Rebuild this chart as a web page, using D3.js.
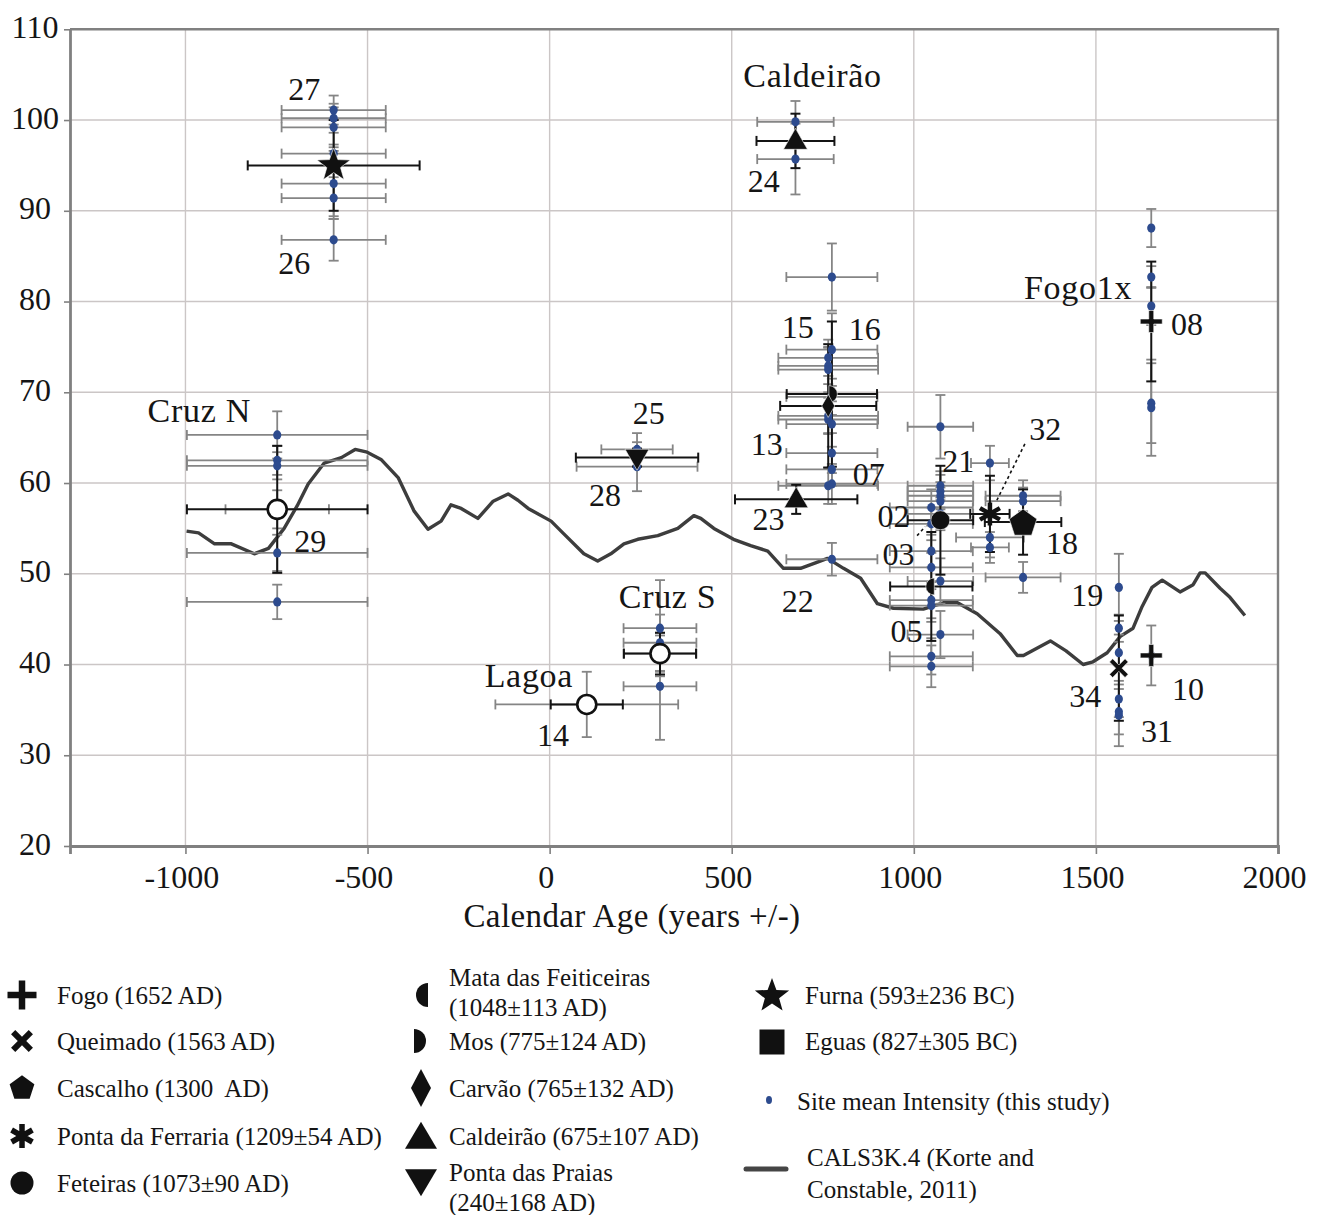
<!DOCTYPE html>
<html>
<head>
<meta charset="utf-8">
<script src="https://cdn.jsdelivr.net/npm/d3@7"></script>
<style>
  body { margin: 0; background: #fff; }
  svg text { font-family: "Liberation Serif", "Times New Roman", serif; fill: #151515; white-space: pre; }
</style>
</head>
<body>
<svg id="chart" width="1330" height="1215"></svg>
<script>
// ---------- axis ticks ----------
const xTickValues = [-1000, -500, 0, 500, 1000, 1500, 2000];
const yTickValues = [20, 30, 40, 50, 60, 70, 80, 90, 100, 110];

// ---------- CALS3K.4 model curve (age AD, intensity µT) ----------
const modelAges = [-997,-964,-920,-874,-811,-772,-729,-693,-663,-619,-572,-534,-501,-463,-416,-372,-334,-298,-271,-243,-197,-155,-114,-87,-59,4,39,94,132,168,204,242,297,352,396,415,451,505,552,599,642,689,730,763,807,854,900,944,1026,1081,1120,1174,1237,1284,1301,1375,1418,1465,1492,1531,1567,1602,1627,1654,1682,1731,1767,1786,1800,1841,1868,1909];
const modelIntensity = [54.7,54.5,53.3,53.3,52.2,52.8,55.0,57.5,59.9,62.2,62.8,63.7,63.4,62.6,60.6,56.9,54.9,55.8,57.6,57.2,56.1,58.0,58.8,58.1,57.2,55.8,54.4,52.2,51.4,52.2,53.3,53.8,54.2,55.0,56.4,56.1,55.0,53.8,53.1,52.5,50.6,50.6,51.2,51.7,50.6,49.5,46.7,46.2,46.1,46.8,46.8,45.6,43.4,41.0,41.0,42.6,41.5,40.0,40.3,41.3,43.1,44.0,46.4,48.5,49.3,48.0,48.8,50.1,50.1,48.4,47.4,45.4];

// ---------- dated flows (flow mean intensity with age and intensity errors) ----------
const flowNames = ["Furna","Caldeirão","Caldeirão","Ponta das Praias","Mos","Carvão","Mata das Feiticeiras","Feteiras","Ponta da Ferraria","Cascalho","Fogo","Fogo","Queimado","Cruz N","Cruz S","Lagoa"];
const flowAges = [-593, 675, 677, 240, 775, 765, 1048, 1073, 1209, 1300, 1652, 1652, 1563, -748, 303, 102];
const flowMeans = [95.0, 97.7, 58.2, 62.8, 69.8, 68.5, 48.6, 55.9, 56.6, 55.7, 77.8, 41.0, 39.6, 57.1, 41.2, 35.6];
const flowAgeErr = [236, 107, 168, 168, 124, 132, 113, 90, 54, 105, 0, 0, 0, 248, 99, 99];
const flowMeanErr = [5.0, 3.0, 1.6, 1.0, 8.0, 6.8, 6.0, 6.0, 4.2, 3.6, 6.6, 0, 5.8, 7.0, 2.3, 0];

// ---------- site mean intensities (this study) ----------
const siteAges = [
  -593,-593,-593,-593,-593,-593,-593,            // Furna
  675,675,                                        // Caldeirão
  -748,-748,-748,-748,-748,-748,                  // Cruz N
  240,240,                                        // Ponta das Praias
  102,                                            // Lagoa
  303,303,303,303,                                // Cruz S
  775,775,765,765,765,775,765,765,775,775,775,775,765,775, // Mos / Carvão
  1048,1048,1048,1048,1048,1048,1048,1048,        // Mata das Feiticeiras
  1073,1073,1073,1073,1073,1073,1073,1073,        // Feteiras
  1209,1209,1209,                                 // Ponta da Ferraria
  1300,1300,1300,                                 // Cascalho
  1652,1652,1652,1652,1652,1652,                  // Fogo
  1563,1563,1563,1563,1563,1563                   // Queimado
];
const siteMeans = [
  101.1,100.2,99.2,96.3,93.0,91.4,86.8,
  99.8,95.7,
  65.3,62.5,61.9,57.1,52.3,46.9,
  63.7,61.8,
  35.6,
  44.0,42.4,41.2,37.6,
  82.7,74.7,73.8,72.9,72.5,69.5,67.4,67.0,66.5,63.3,61.5,59.9,59.7,51.6,
  57.3,55.5,52.5,50.7,47.1,46.5,40.9,39.8,
  66.2,59.7,59.1,58.6,58.0,56.6,49.2,43.3,
  62.2,54.0,52.9,
  58.6,58.0,49.6,
  88.1,82.7,79.5,68.8,68.3,41.0,
  48.5,44.0,41.3,36.2,34.8,34.4
];
const siteAgeErr = [
  143,143,143,143,143,143,143,
  105,105,
  248,248,248,142,248,248,
  98,166,
  251,
  100,100,100,100,
  125,125,137,137,137,125,137,137,125,125,125,125,137,125,
  114,114,114,114,114,114,114,114,
  90,90,90,90,90,90,90,90,
  52,93,52,
  103,103,103,
  0,0,0,0,0,0,
  0,0,0,0,0,0
];
const siteMeanErr = [
  1.6,1.6,2.2,1.0,3.6,2.3,2.3,
  2.3,3.9,
  2.6,1.6,1.5,2.1,2.0,1.9,
  1.8,2.7,
  3.6,
  5.3,3.1,2.0,5.9,
  3.7,4.0,2.0,2.0,2.5,2.0,2.0,1.5,2.5,2.2,1.8,2.2,2.0,1.8,
  2.0,1.8,1.8,1.6,2.0,1.8,2.0,2.3,
  3.5,1.6,1.8,1.5,1.5,1.8,2.5,2.6,
  1.9,2.2,1.7,
  1.7,1.5,1.7,
  2.1,1.2,2.1,4.4,5.3,3.3,
  3.7,1.5,2.0,2.0,2.5,3.4
];

// ---------- sample labels (anchored in age / intensity space) ----------
const labelTexts = ["27","26","Caldeirão","24","Cruz N","29","25","28","Cruz S","Lagoa","14","15","16","13","07","23","22","02","03","05","21","32","18","19","Fogo1x","08","34","10","31"];
const labelAges  = [-674,-701,722,588,-962,-657,272,152,324,-57,9,681,865,596,876,601,681,944,958,980,1122,1361,1407,1476,1451,1750,1471,1753,1668];
const labelMeans = [103.4,84.3,104.9,93.3,67.9,53.6,67.7,58.7,47.4,38.7,32.2,77.2,77.0,64.3,61.0,56.0,47.0,56.4,52.2,43.7,62.4,65.9,53.4,47.7,81.5,77.5,36.5,37.3,32.7];

// dotted leader lines: [age, intensity] start and end
const leaderStarts = [[1228, 58.1], [1009, 54.2]];
const leaderEnds   = [[1306, 64.4], [1031, 55.2]];

// ---------- scales ----------
const x = d3.scaleLinear().domain([-1317, 2000]).range([70, 1278]);
const y = d3.scaleLinear().domain([20, 110]).range([846, 29.3]);

const svg = d3.select("#chart");
svg.append("rect").attr("width", 1330).attr("height", 1215).attr("fill", "#fff");

// ---------- marker shapes ----------
const fmt = v => (+v).toFixed(2);
function polygon(pts) { return "M" + pts.map(p => fmt(p[0]) + "," + fmt(p[1])).join("L") + "Z"; }
function starPath(R, r) {
  const pts = [];
  for (let i = 0; i < 10; i++) {
    const a = -Math.PI / 2 + i * Math.PI / 5, rad = i % 2 ? r : R;
    pts.push([rad * Math.cos(a), rad * Math.sin(a)]);
  }
  return polygon(pts);
}
function pentagonPath(R) {
  const pts = [];
  for (let i = 0; i < 5; i++) {
    const a = -Math.PI / 2 + i * 2 * Math.PI / 5;
    pts.push([R * Math.cos(a), R * Math.sin(a) + R * 0.1]);
  }
  return polygon(pts);
}
function triPath(w, h, down) {
  const s = down ? -1 : 1;
  return polygon([[0, -s * h * 0.6], [w / 2, s * h * 0.4], [-w / 2, s * h * 0.4]]);
}
function diamondPath(w, h) { return polygon([[0, -h / 2], [w / 2, 0], [0, h / 2], [-w / 2, 0]]); }
function squarePath(s) { return polygon([[-s / 2, -s / 2], [s / 2, -s / 2], [s / 2, s / 2], [-s / 2, s / 2]]); }
function circlePath(r) { return `M${r},0A${r},${r} 0 1,1 ${-r},0A${r},${r} 0 1,1 ${r},0Z`; }
function halfPath(r, dir, off) {
  return `M${off},${-r}A${r},${r} 0 0,${dir > 0 ? 1 : 0} ${off},${r}Z`;
}
function plusPts(L, t) {
  const a = L / 2, b = t / 2;
  return [[-b,-a],[b,-a],[b,-b],[a,-b],[a,b],[b,b],[b,a],[-b,a],[-b,b],[-a,b],[-a,-b],[-b,-b]];
}
function plusPath(L, t) { return polygon(plusPts(L, t)); }
function timesPath(L, t) {
  const c = Math.SQRT1_2;
  return polygon(plusPts(L, t).map(([px, py]) => [c * (px - py), c * (px + py)]));
}
function asteriskPath(r) {
  const c = Math.cos(Math.PI / 6) * r, s = Math.sin(Math.PI / 6) * r;
  return `M0,${-r}L0,${r}M${-c},${-s}L${c},${s}M${-c},${s}L${c},${-s}`;
}

const plotMarker = {
  "Furna": { d: starPath(17.5, 7.2) },
  "Caldeirão": { d: triPath(24, 21, false) },
  "Ponta das Praias": { d: triPath(24, 21, true) },
  "Mos": { d: halfPath(8.5, 1, -3) },
  "Carvão": { d: diamondPath(13, 23) },
  "Mata das Feiticeiras": { d: halfPath(8.5, -1, 3) },
  "Feteiras": { d: circlePath(9.5) },
  "Ponta da Ferraria": { d: asteriskPath(11.5), stroke: 4.5 },
  "Cascalho": { d: pentagonPath(14.5) },
  "Fogo": { d: plusPath(22, 5) },
  "Queimado": { d: timesPath(22, 4.5) },
  "Cruz N": { d: circlePath(9.5), open: true },
  "Cruz S": { d: circlePath(9.5), open: true },
  "Lagoa": { d: circlePath(9.5), open: true }
};

// ---------- grid ----------
const grid = svg.append("g").attr("stroke", "#cbc6c6").attr("stroke-width", 1.4);
grid.selectAll(".gx").data(xTickValues).join("line").attr("class", "gx")
  .attr("x1", d => x(d)).attr("x2", d => x(d)).attr("y1", y(20)).attr("y2", y(110));
grid.selectAll(".gy").data(yTickValues).join("line").attr("class", "gy")
  .attr("x1", x.range()[0]).attr("x2", x.range()[1]).attr("y1", d => y(d)).attr("y2", d => y(d));

// frame (top and right edges)
svg.append("path")
  .attr("d", `M${x.range()[0]},${y(110)}H${x.range()[1]}V${y(20)}`)
  .attr("fill", "none").attr("stroke", "#808080").attr("stroke-width", 2.4);

// ---------- axes ----------
const plainNumber = d => String(d);
const xAxis = svg.append("g").attr("transform", `translate(0,${y(20)})`)
  .call(d3.axisBottom(x).tickValues(xTickValues).tickSize(8).tickSizeOuter(8).tickFormat(plainNumber));
const yAxis = svg.append("g").attr("transform", `translate(${x.range()[0]},0)`)
  .call(d3.axisLeft(y).tickValues(yTickValues).tickSize(6).tickSizeOuter(0).tickFormat(plainNumber));
[xAxis, yAxis].forEach(g => {
  g.attr("font-family", null).attr("font-size", null);
  g.select(".domain").attr("stroke", "#808080").attr("stroke-width", 2.8);
  g.selectAll(".tick line").attr("stroke", "#808080").attr("stroke-width", 1.6);
  g.selectAll(".tick text").attr("fill", "#151515").style("font-size", "32px");
});
xAxis.selectAll(".tick text").attr("y", 42).attr("dy", 0).attr("dx", -4);
yAxis.selectAll(".tick text").attr("x", -35).attr("dy", 0).attr("y", 8).attr("text-anchor", "middle");

svg.append("text").attr("x", x(226)).attr("y", 927).attr("text-anchor", "middle")
  .style("font-size", "33px").attr("letter-spacing", 0.4).text("Calendar Age (years +/-)");

// ---------- model curve ----------
const modelData = d3.zip(modelAges, modelIntensity);
svg.append("path").datum(modelData)
  .attr("d", d3.line().x(d => x(d[0])).y(d => y(d[1])))
  .attr("fill", "none").attr("stroke", "#3d3d3d").attr("stroke-width", 3.4)
  .attr("stroke-linejoin", "round");

// ---------- error bars ----------
function drawErrorBars(rows, color, width, cap) {
  const g = svg.append("g").attr("stroke", color).attr("stroke-width", width).attr("fill", "none");
  const hr = rows.filter(d => d.ageErr > 0), vr = rows.filter(d => d.meanErr > 0);
  g.selectAll(".h").data(hr).join("line").attr("class", "h")
    .attr("x1", d => x(d.age - d.ageErr)).attr("x2", d => x(d.age + d.ageErr))
    .attr("y1", d => y(d.mean)).attr("y2", d => y(d.mean));
  g.selectAll(".hc").data(hr.flatMap(d => [d.age - d.ageErr, d.age + d.ageErr].map(a => ({ a, m: d.mean }))))
    .join("line").attr("class", "hc")
    .attr("x1", d => x(d.a)).attr("x2", d => x(d.a))
    .attr("y1", d => y(d.m) - cap / 2).attr("y2", d => y(d.m) + cap / 2);
  g.selectAll(".v").data(vr).join("line").attr("class", "v")
    .attr("x1", d => x(d.age)).attr("x2", d => x(d.age))
    .attr("y1", d => y(d.mean - d.meanErr)).attr("y2", d => y(d.mean + d.meanErr));
  g.selectAll(".vc").data(vr.flatMap(d => [d.mean - d.meanErr, d.mean + d.meanErr].map(m => ({ a: d.age, m }))))
    .join("line").attr("class", "vc")
    .attr("x1", d => x(d.a) - cap / 2).attr("x2", d => x(d.a) + cap / 2)
    .attr("y1", d => y(d.m)).attr("y2", d => y(d.m));
}

const siteRows = siteAges.map((a, i) => ({ age: a, mean: siteMeans[i], ageErr: siteAgeErr[i], meanErr: siteMeanErr[i] }));
const flowRows = flowNames.map((n, i) => ({ name: n, age: flowAges[i], mean: flowMeans[i], ageErr: flowAgeErr[i], meanErr: flowMeanErr[i] }));

drawErrorBars(siteRows, "#858585", 1.8, 10);
drawErrorBars(flowRows, "#141414", 2.0, 10);

// ---------- site mean points ----------
svg.append("g").selectAll("ellipse").data(siteRows).join("ellipse")
  .attr("cx", d => x(d.age)).attr("cy", d => y(d.mean))
  .attr("rx", 4.1).attr("ry", 4.6).attr("fill", "#2d4b8e");

// ---------- flow markers ----------
svg.append("g").selectAll("path").data(flowRows).join("path")
  .attr("transform", d => `translate(${x(d.age)},${y(d.mean)})`)
  .attr("d", d => plotMarker[d.name].d)
  .each(function (d) {
    const m = plotMarker[d.name], s = d3.select(this);
    if (m.stroke) s.attr("fill", "none").attr("stroke", "#111").attr("stroke-width", m.stroke);
    else if (m.open) s.attr("fill", "#fff").attr("stroke", "#111").attr("stroke-width", 2.6);
    else s.attr("fill", "#111").attr("stroke", "#fff").attr("stroke-width", 0.6);
  });

// ---------- leader lines and labels ----------
svg.append("g").selectAll("line").data(d3.zip(leaderStarts, leaderEnds)).join("line")
  .attr("x1", d => x(d[0][0])).attr("y1", d => y(d[0][1]))
  .attr("x2", d => x(d[1][0])).attr("y2", d => y(d[1][1]))
  .attr("stroke", "#111").attr("stroke-width", 1.6).attr("stroke-dasharray", "3,3");

svg.append("g").selectAll("text").data(labelTexts).join("text")
  .attr("x", (d, i) => x(labelAges[i])).attr("y", (d, i) => y(labelMeans[i]) + 11)
  .attr("text-anchor", "middle")
  .style("font-size", d => /^\d+$/.test(d) ? "32px" : "34px")
  .attr("letter-spacing", d => /^\d+$/.test(d) ? 0 : 0.7)
  .text(d => d);

// ---------- legend ----------
const legendItems = [
  { d: plusPath(29, 6.5), sx: 22, sy: 995, tx: 57, lines: ["Fogo (1652 AD)"], ty: 995 },
  { d: timesPath(25, 6), sx: 22, sy: 1041, tx: 57, lines: ["Queimado (1563 AD)"], ty: 1041 },
  { d: pentagonPath(13), sx: 22, sy: 1087, tx: 57, lines: ["Cascalho (1300  AD)"], ty: 1088 },
  { d: asteriskPath(12), stroke: 5.5, sx: 22, sy: 1136, tx: 57, lines: ["Ponta da Ferraria (1209±54 AD)"], ty: 1136 },
  { d: circlePath(11.5), sx: 22, sy: 1183, tx: 57, lines: ["Feteiras (1073±90 AD)"], ty: 1183 },
  { d: halfPath(12, -1, 0), sx: 428, sy: 995, tx: 449, lines: ["Mata das Feiticeiras", "(1048±113 AD)"], ty: 977 },
  { d: halfPath(12, 1, 0), sx: 414, sy: 1041, tx: 449, lines: ["Mos (775±124 AD)"], ty: 1041 },
  { d: diamondPath(20, 38), sx: 421, sy: 1088, tx: 449, lines: ["Carvão (765±132 AD)"], ty: 1088 },
  { d: triPath(32, 27, false), sx: 421, sy: 1138, tx: 449, lines: ["Caldeirão (675±107 AD)"], ty: 1136 },
  { d: triPath(32, 27, true), sx: 421, sy: 1180, tx: 449, lines: ["Ponta das Praias", "(240±168 AD)"], ty: 1172 },
  { d: starPath(18, 7.5), sx: 772, sy: 996, tx: 805, lines: ["Furna (593±236 BC)"], ty: 995 },
  { d: squarePath(25), sx: 772, sy: 1042, tx: 805, lines: ["Eguas (827±305 BC)"], ty: 1041 }
];
const lg = svg.append("g");
lg.selectAll("path").data(legendItems).join("path")
  .attr("transform", d => `translate(${d.sx},${d.sy})`).attr("d", d => d.d)
  .each(function (d) {
    const s = d3.select(this);
    if (d.stroke) s.attr("fill", "none").attr("stroke", "#111").attr("stroke-width", d.stroke);
    else s.attr("fill", "#111");
  });
lg.selectAll("text.item").data(legendItems).join("text").attr("class", "item")
  .attr("x", d => d.tx).attr("y", d => d.ty + 8.5).style("font-size", "25px")
  .selectAll("tspan").data(d => d.lines.map((t, i) => ({ t, i, x: d.tx }))).join("tspan")
  .attr("x", d => d.x).attr("dy", d => d.i ? 30 : 0).text(d => d.t);

// site mean legend entry
lg.append("ellipse").attr("cx", 769).attr("cy", 1100).attr("rx", 3).attr("ry", 4).attr("fill", "#2d4b8e");
lg.append("text").attr("x", 797).attr("y", 1109.5).style("font-size", "25px").text("Site mean Intensity (this study)");

// model legend entry
lg.append("line").attr("x1", 746).attr("x2", 786).attr("y1", 1169).attr("y2", 1169)
  .attr("stroke", "#454545").attr("stroke-width", 5).attr("stroke-linecap", "round");
lg.append("text").attr("x", 807).attr("y", 1165.5).style("font-size", "25px")
  .selectAll("tspan").data(["CALS3K.4 (Korte and", "Constable, 2011)"]).join("tspan")
  .attr("x", 807).attr("dy", (d, i) => i ? 32 : 0).text(d => d);
</script>
</body>
</html>
